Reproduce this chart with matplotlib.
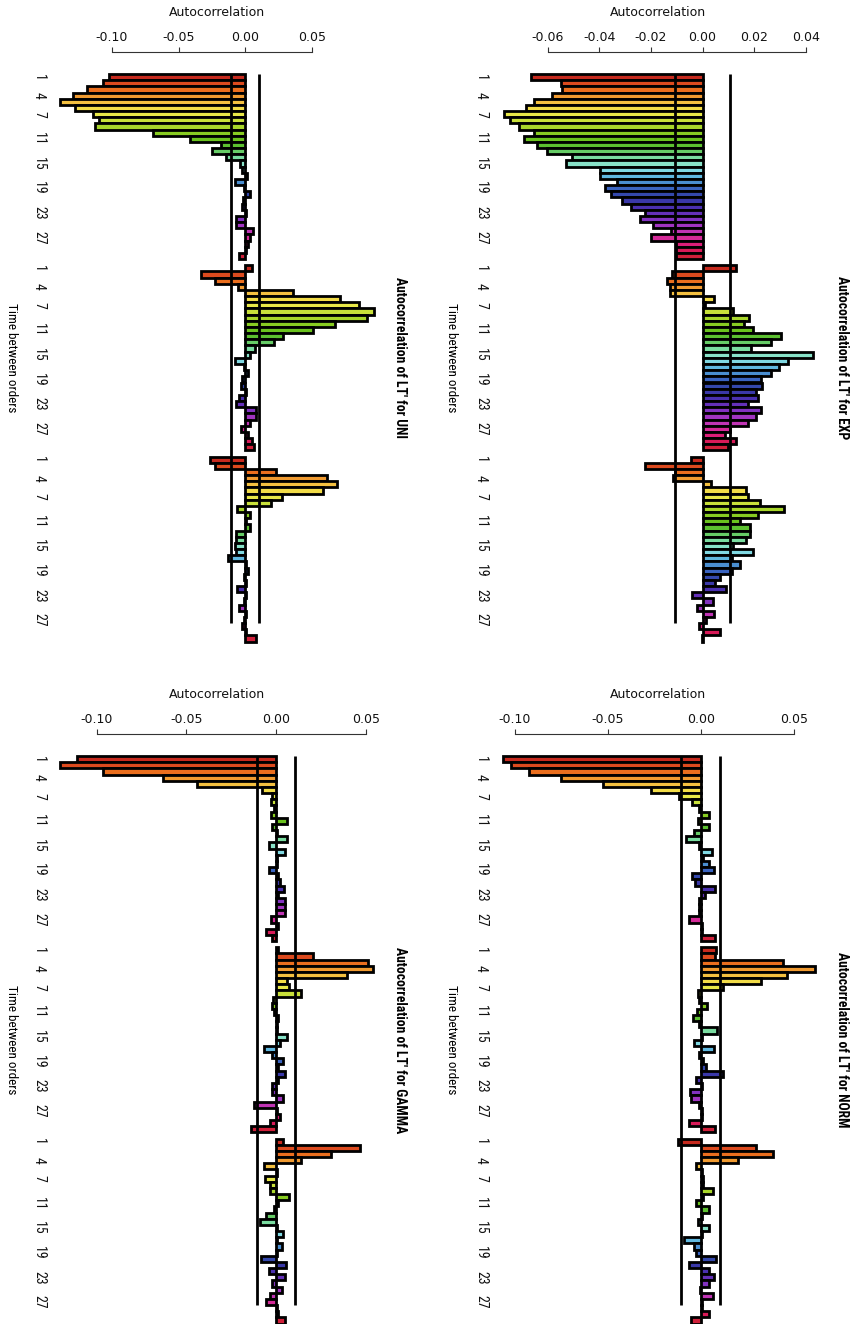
import matplotlib
matplotlib.use("Agg")
import matplotlib.pyplot as plt
from matplotlib.transforms import blended_transform_factory

# ---- DATA: autocorrelation of LT' (3 blocks of lags 1..30 per distribution) ----
lags = list(range(1, 31))
lag_labels = [1, 4, 7, 11, 15, 19, 23, 27]
ci = 0.0105

exp_g1 = [-0.0662, -0.0546, -0.0542, -0.0581, -0.0654, -0.0683, -0.0767, -0.0747, -0.0709, -0.0651,
          -0.0690, -0.0641, -0.0603, -0.0504, -0.0529, -0.0397, -0.0397, -0.0331, -0.0379, -0.0356,
          -0.0312, -0.0277, -0.0222, -0.0241, -0.0190, -0.0123, -0.0200, -0.0103, -0.0103, -0.0103]
exp_g2 = [0.0131, -0.0119, -0.0138, -0.0126, -0.0126, 0.0044, 0.0010, 0.0118, 0.0179, 0.0159,
          0.0195, 0.0304, 0.0265, 0.0188, 0.0428, 0.0329, 0.0297, 0.0265, 0.0227, 0.0231,
          0.0205, 0.0214, 0.0176, 0.0227, 0.0208, 0.0176, 0.0105, 0.0086, 0.0131, 0.0099]
exp_g3 = [-0.0046, -0.0222, -0.0106, -0.0113, 0.0031, 0.0167, 0.0176, 0.0221, 0.0313, 0.0214,
          0.0144, 0.0182, 0.0182, 0.0167, 0.0118, 0.0195, 0.0112, 0.0144, 0.0112, 0.0067,
          0.0049, 0.0090, -0.0042, 0.0041, -0.0023, 0.0044, 0.0015, -0.0013, 0.0069, -0.0004]

uni_g1 = [-0.1020, -0.1070, -0.1191, -0.1291, -0.1389, -0.1276, -0.1146, -0.1101, -0.1126, -0.0693,
          -0.0417, -0.0178, -0.0249, -0.0141, -0.0035, -0.0020, 0.0015, -0.0078, -0.0010, 0.0035,
          -0.0015, -0.0023, 0.0005, -0.0070, -0.0070, 0.0060, 0.0035, 0.0023, 0.0005, -0.0045]
uni_g2 = [0.0048, -0.0329, -0.0229, -0.0053, 0.0357, 0.0709, 0.0852, 0.0965, 0.0915, 0.0676,
          0.0513, 0.0281, 0.0216, 0.0073, 0.0040, -0.0078, -0.0010, 0.0023, -0.0020, -0.0028,
          0.0005, -0.0045, -0.0065, 0.0080, 0.0080, 0.0040, -0.0028, 0.0023, 0.0048, 0.0065]
uni_g3 = [-0.0261, -0.0229, 0.0231, 0.0613, 0.0688, 0.0583, 0.0274, 0.0198, -0.0060, 0.0040,
          0.0010, 0.0040, -0.0070, -0.0065, -0.0078, -0.0070, -0.0128, 0.0005, 0.0023, -0.0010,
          0.0010, -0.0060, 0.0010, -0.0010, -0.0045, 0.0010, -0.0010, -0.0020, 0.0010, 0.0085]

norm_g1 = [-0.1064, -0.1018, -0.0923, -0.0754, -0.0525, -0.0268, -0.0120, -0.0046, -0.0010, 0.0046,
           -0.0018, 0.0041, -0.0036, -0.0079, -0.0010, 0.0059, 0.0010, 0.0046, 0.0068, -0.0048,
           -0.0030, 0.0077, 0.0023, -0.0010, -0.0010, -0.0010, -0.0066, 0.0005, 0.0005, 0.0077]
norm_g2 = [0.0082, 0.0077, 0.0443, 0.0613, 0.0461, 0.0321, 0.0118, -0.0018, -0.0010, 0.0032,
           -0.0020, -0.0043, -0.0010, 0.0089, 0.0005, -0.0036, 0.0068, -0.0010, 0.0010, 0.0030,
           0.0118, -0.0025, 0.0005, -0.0061, -0.0054, -0.0010, 0.0005, 0.0005, -0.0066, 0.0077]
norm_g3 = [-0.0125, 0.0296, 0.0386, 0.0198, -0.0025, 0.0005, 0.0010, 0.0010, 0.0064, 0.0010,
           -0.0025, 0.0041, 0.0005, -0.0018, 0.0046, 0.0005, -0.0089, -0.0039, -0.0025, 0.0082,
           -0.0066, 0.0046, 0.0068, 0.0046, -0.0007, 0.0064, 0.0005, 0.0005, 0.0046, -0.0054]

gamma_g1 = [-0.1112, -0.1203, -0.0963, -0.0628, -0.0441, -0.0076, -0.0020, -0.0026, -0.0010, -0.0026,
            0.0061, -0.0020, 0.0005, 0.0061, -0.0039, 0.0048, 0.0005, 0.0005, -0.0039, 0.0010,
            0.0020, 0.0043, 0.0010, 0.0048, 0.0048, 0.0048, -0.0026, 0.0011, -0.0054, -0.0020]
gamma_g2 = [0.0010, 0.0207, 0.0514, 0.0538, 0.0393, 0.0061, 0.0073, 0.0140, -0.0015, -0.0020,
            -0.0010, 0.0010, 0.0005, 0.0005, 0.0061, 0.0020, -0.0069, -0.0020, 0.0039, 0.0010,
            0.0048, 0.0010, -0.0020, -0.0020, 0.0039, -0.0125, 0.0005, 0.0020, -0.0032, -0.0138]
gamma_g3 = [0.0039, 0.0471, 0.0304, 0.0142, -0.0069, 0.0005, -0.0063, -0.0032, -0.0032, 0.0073,
            0.0010, -0.0010, -0.0054, -0.0091, 0.0005, 0.0039, 0.0005, 0.0035, 0.0005, -0.0082,
            0.0054, -0.0039, 0.0048, -0.0020, 0.0035, -0.0032, -0.0058, 0.0005, 0.0010, 0.0048]

bar_colors = ["#C62A1E", "#DC4A1E", "#EA6E1E", "#F09A30", "#F4C040", "#F2DC48", "#E8E848", "#C8E03A",
              "#A8D62A", "#88CC22", "#6AC21E", "#5CC030", "#66CC66", "#7ADCA0", "#88E2C8", "#80D8E2",
              "#60B8E0", "#4A8ED0", "#3A64C0", "#3448AC", "#3A38A8", "#4A30B0", "#6430B8", "#8232C0",
              "#A034C0", "#C034B4", "#D42A98", "#DC1E78", "#D81A58", "#D0203A"]

# ---- LAYOUT (pixels of the 856 x 1324 figure) ----
W, H = 856, 1324
slot = 6.17
n_slots = 92

panels = [
    # name, groups, xlim, ticks, axes left/right px, top px, column text x (lags, xlabel, title, ylabel)
    ("EXP", [exp_g1, exp_g2, exp_g3], (-0.06, 0.04), [-0.06, -0.04, -0.02, 0.0, 0.02, 0.04],
     547.5, 806.0, 74, (481, 452, 842, 658)),
    ("UNI", [uni_g1, uni_g2, uni_g3], (-0.10, 0.05), [-0.10, -0.05, 0.0, 0.05],
     112.0, 311.7, 74, (39, 11, 400, 217)),
    ("NORM", [norm_g1, norm_g2, norm_g3], (-0.10, 0.05), [-0.10, -0.05, 0.0, 0.05],
     514.7, 794.0, 756, (481, 452, 842, 658)),
    ("GAMMA", [gamma_g1, gamma_g2, gamma_g3], (-0.10, 0.05), [-0.10, -0.05, 0.0, 0.05],
     96.7, 365.7, 756, (39, 11, 400, 217)),
]

# narrow face for the rotated texts
narrow = ["Roboto Condensed", "Liberation Sans Narrow", "DejaVu Sans"]

fig = plt.figure(figsize=(W / 100, H / 100), dpi=100)

for name, groups, xlim, ticks, left, right, top, text_x in panels:
    lag_x, xlab_x, title_x, ylab_x = text_x
    height = n_slots * slot
    ax = fig.add_axes([left / W, 1 - (top + height) / H, (right - left) / W, height / H])
    ax.set_facecolor("none")

    # bars: 30 lags per block, one empty slot between blocks
    for g, vals in enumerate(groups):
        centers = [g * 31 + (k - 1) + 0.5 for k in lags]
        ax.barh(centers, vals, height=1.0, color=bar_colors, edgecolor="black",
                linewidth=2.0, clip_on=False, zorder=2)

    # confidence bounds
    ax.vlines([-ci, ci], 0, 89, color="black", linewidth=2.0, zorder=3)

    ax.set_xlim(*xlim)
    ax.set_ylim(n_slots, 0)
    ax.set_yticks([])
    for s in ["left", "right", "bottom"]:
        ax.spines[s].set_visible(False)
    ax.spines["top"].set_position(("outward", 15.8))
    ax.spines["top"].set_linewidth(0.8)
    ax.spines["top"].set_color("#333333")
    ax.xaxis.tick_top()
    ax.set_xticks(ticks, labels=[f"{t:.2f}" for t in ticks])
    ax.tick_params(axis="x", direction="out", length=3.6, width=0.8, pad=2.5,
                   labelsize=9, colors="#333333", labelcolor="#111111")

    # lag labels (rotated), placed in figure x and data y
    trans = blended_transform_factory(fig.transFigure, ax.transData)
    for g in range(3):
        for lab in lag_labels:
            ax.text(lag_x / W, g * 31 + lab - 0.5, str(lab), transform=trans,
                    rotation=-90, ha="center", va="center", fontsize=10,
                    family=narrow, fontstretch="condensed", color="#111111")

    mid_y = top + 46 * slot
    fig.text(xlab_x / W, 1 - mid_y / H, "Time between orders", rotation=-90,
             ha="center", va="center", fontsize=9.5, family=narrow, fontstretch="condensed")
    fig.text(title_x / W, 1 - mid_y / H, "Autocorrelation of LT' for " + name, rotation=-90,
             ha="center", va="center", fontsize=9.8, fontweight="bold", family=narrow,
             fontstretch="condensed")
    fig.text(ylab_x / W, 1 - (top - 61) / H, "Autocorrelation",
             ha="center", va="center", fontsize=9, family="DejaVu Sans", color="#111111")

fig.savefig("out.png", dpi=100)
